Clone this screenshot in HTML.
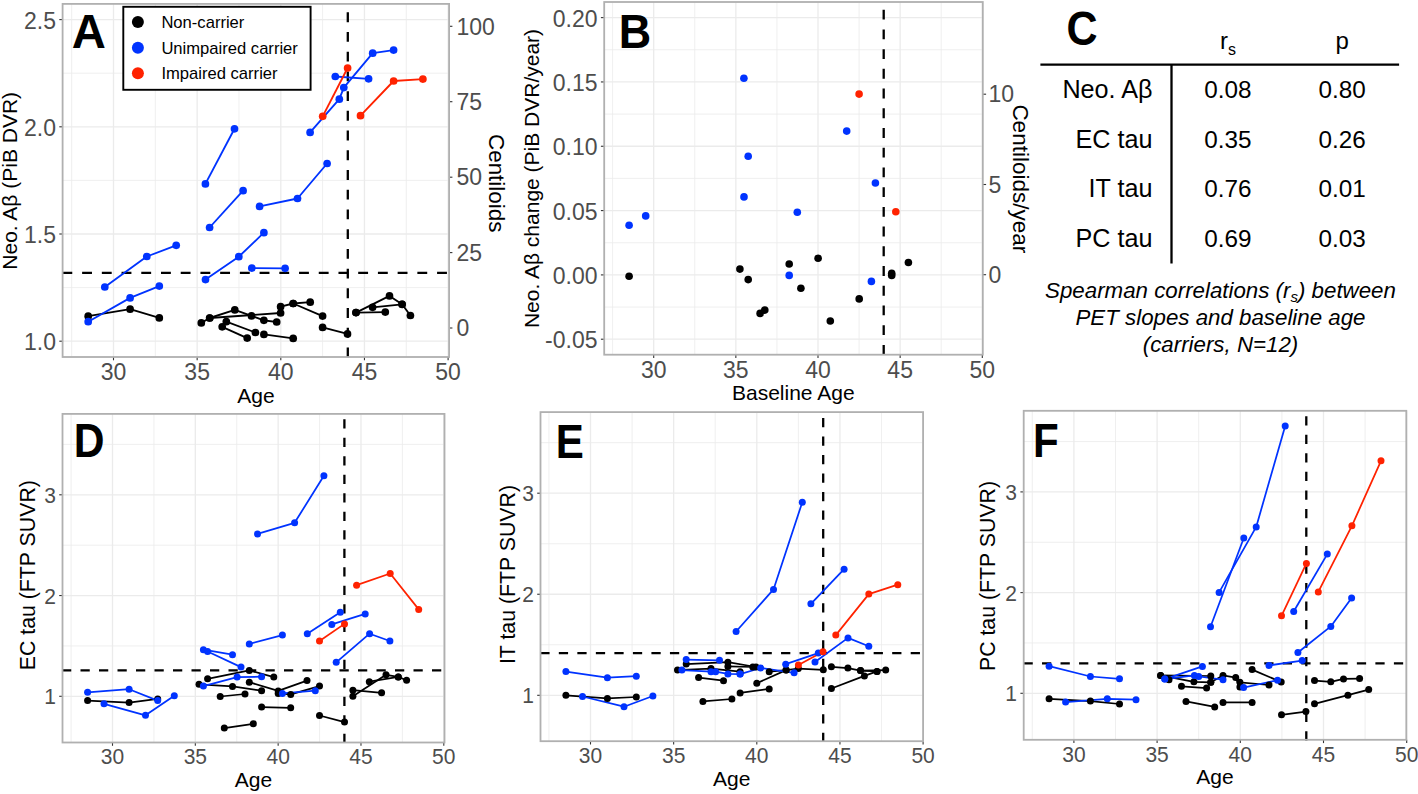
<!DOCTYPE html>
<html><head><meta charset="utf-8"><title>Figure</title>
<style>
html,body{margin:0;padding:0;background:#fff;}
body{width:1418px;height:794px;overflow:hidden;}
svg{display:block;font-family:"Liberation Sans", sans-serif;}
</style></head>
<body>
<svg width="1418" height="794" viewBox="0 0 1418 794">
<rect x="0" y="0" width="1418" height="794" fill="#fff"/>
<line x1="71.67" y1="3.9" x2="71.67" y2="357" stroke="#ebebeb" stroke-width="0.8"/>
<line x1="155.32" y1="3.9" x2="155.32" y2="357" stroke="#ebebeb" stroke-width="0.8"/>
<line x1="238.98" y1="3.9" x2="238.98" y2="357" stroke="#ebebeb" stroke-width="0.8"/>
<line x1="322.62" y1="3.9" x2="322.62" y2="357" stroke="#ebebeb" stroke-width="0.8"/>
<line x1="406.28" y1="3.9" x2="406.28" y2="357" stroke="#ebebeb" stroke-width="0.8"/>
<line x1="62.6" y1="287.6" x2="449.1" y2="287.6" stroke="#ebebeb" stroke-width="0.8"/>
<line x1="62.6" y1="180.4" x2="449.1" y2="180.4" stroke="#ebebeb" stroke-width="0.8"/>
<line x1="62.6" y1="73.2" x2="449.1" y2="73.2" stroke="#ebebeb" stroke-width="0.8"/>
<line x1="113.5" y1="3.9" x2="113.5" y2="357" stroke="#ebebeb" stroke-width="1.3"/>
<line x1="197.15" y1="3.9" x2="197.15" y2="357" stroke="#ebebeb" stroke-width="1.3"/>
<line x1="280.8" y1="3.9" x2="280.8" y2="357" stroke="#ebebeb" stroke-width="1.3"/>
<line x1="364.45" y1="3.9" x2="364.45" y2="357" stroke="#ebebeb" stroke-width="1.3"/>
<line x1="448.1" y1="3.9" x2="448.1" y2="357" stroke="#ebebeb" stroke-width="1.3"/>
<line x1="62.6" y1="341.2" x2="449.1" y2="341.2" stroke="#ebebeb" stroke-width="1.3"/>
<line x1="62.6" y1="234" x2="449.1" y2="234" stroke="#ebebeb" stroke-width="1.3"/>
<line x1="62.6" y1="126.8" x2="449.1" y2="126.8" stroke="#ebebeb" stroke-width="1.3"/>
<line x1="62.6" y1="19.6" x2="449.1" y2="19.6" stroke="#ebebeb" stroke-width="1.3"/>
<line x1="113.5" y1="357" x2="113.5" y2="360.3" stroke="#333333" stroke-width="1.1"/>
<text x="0" y="0" font-size="23" fill="#4d4d4d" text-anchor="middle" font-weight="normal" font-style="normal" transform="translate(113.5 379.6) scale(1 1.04)">30</text>
<line x1="197.15" y1="357" x2="197.15" y2="360.3" stroke="#333333" stroke-width="1.1"/>
<text x="0" y="0" font-size="23" fill="#4d4d4d" text-anchor="middle" font-weight="normal" font-style="normal" transform="translate(197.15 379.6) scale(1 1.04)">35</text>
<line x1="280.8" y1="357" x2="280.8" y2="360.3" stroke="#333333" stroke-width="1.1"/>
<text x="0" y="0" font-size="23" fill="#4d4d4d" text-anchor="middle" font-weight="normal" font-style="normal" transform="translate(280.8 379.6) scale(1 1.04)">40</text>
<line x1="364.45" y1="357" x2="364.45" y2="360.3" stroke="#333333" stroke-width="1.1"/>
<text x="0" y="0" font-size="23" fill="#4d4d4d" text-anchor="middle" font-weight="normal" font-style="normal" transform="translate(364.45 379.6) scale(1 1.04)">45</text>
<line x1="448.1" y1="357" x2="448.1" y2="360.3" stroke="#333333" stroke-width="1.1"/>
<text x="0" y="0" font-size="23" fill="#4d4d4d" text-anchor="middle" font-weight="normal" font-style="normal" transform="translate(448.1 379.6) scale(1 1.04)">50</text>
<line x1="59.3" y1="341.2" x2="62.6" y2="341.2" stroke="#333333" stroke-width="1.1"/>
<text x="0" y="0" font-size="23" fill="#4d4d4d" text-anchor="end" font-weight="normal" font-style="normal" transform="translate(56 350.26) scale(1 1.04)">1.0</text>
<line x1="59.3" y1="234" x2="62.6" y2="234" stroke="#333333" stroke-width="1.1"/>
<text x="0" y="0" font-size="23" fill="#4d4d4d" text-anchor="end" font-weight="normal" font-style="normal" transform="translate(56 243.06) scale(1 1.04)">1.5</text>
<line x1="59.3" y1="126.8" x2="62.6" y2="126.8" stroke="#333333" stroke-width="1.1"/>
<text x="0" y="0" font-size="23" fill="#4d4d4d" text-anchor="end" font-weight="normal" font-style="normal" transform="translate(56 135.86) scale(1 1.04)">2.0</text>
<line x1="59.3" y1="19.6" x2="62.6" y2="19.6" stroke="#333333" stroke-width="1.1"/>
<text x="0" y="0" font-size="23" fill="#4d4d4d" text-anchor="end" font-weight="normal" font-style="normal" transform="translate(56 28.66) scale(1 1.04)">2.5</text>
<line x1="449.1" y1="328" x2="452.4" y2="328" stroke="#333333" stroke-width="1.1"/>
<text x="456.5" y="336.23" font-size="23" fill="#4d4d4d" text-anchor="start" font-weight="normal" font-style="normal">0</text>
<line x1="449.1" y1="252.6" x2="452.4" y2="252.6" stroke="#333333" stroke-width="1.1"/>
<text x="456.5" y="260.83" font-size="23" fill="#4d4d4d" text-anchor="start" font-weight="normal" font-style="normal">25</text>
<line x1="449.1" y1="177.2" x2="452.4" y2="177.2" stroke="#333333" stroke-width="1.1"/>
<text x="456.5" y="185.43" font-size="23" fill="#4d4d4d" text-anchor="start" font-weight="normal" font-style="normal">50</text>
<line x1="449.1" y1="101.7" x2="452.4" y2="101.7" stroke="#333333" stroke-width="1.1"/>
<text x="456.5" y="109.93" font-size="23" fill="#4d4d4d" text-anchor="start" font-weight="normal" font-style="normal">75</text>
<line x1="449.1" y1="26.3" x2="452.4" y2="26.3" stroke="#333333" stroke-width="1.1"/>
<text x="456.5" y="34.53" font-size="23" fill="#4d4d4d" text-anchor="start" font-weight="normal" font-style="normal">100</text>
<line x1="62.4" y1="272.9" x2="449.1" y2="272.9" stroke="#000000" stroke-width="2.3" stroke-dasharray="9.86 9.86"/>
<line x1="347.8" y1="357.37" x2="347.8" y2="3.9" stroke="#000000" stroke-width="2.3" stroke-dasharray="9.86 9.86"/>
<polyline points="88.2,316.2 130.1,309.2 159.3,317.9" fill="none" stroke="#000000" stroke-width="1.85" stroke-linejoin="round"/>
<polyline points="201.3,322.9 209.7,318 234.8,309.9 251.5,315.9 263.9,320.3 276.7,322" fill="none" stroke="#000000" stroke-width="1.85" stroke-linejoin="round"/>
<polyline points="209.7,318 280.6,313 280.6,306.7 293.2,303.5 310.2,302.2" fill="none" stroke="#000000" stroke-width="1.85" stroke-linejoin="round"/>
<polyline points="293.2,303.5 322.6,316.1" fill="none" stroke="#000000" stroke-width="1.85" stroke-linejoin="round"/>
<polyline points="226.3,321.7 255.4,332.5" fill="none" stroke="#000000" stroke-width="1.85" stroke-linejoin="round"/>
<polyline points="222.2,326.8 247.2,338.1" fill="none" stroke="#000000" stroke-width="1.85" stroke-linejoin="round"/>
<polyline points="263.9,334.4 293.2,338.4" fill="none" stroke="#000000" stroke-width="1.85" stroke-linejoin="round"/>
<polyline points="322.6,327.4 347.5,333.9" fill="none" stroke="#000000" stroke-width="1.85" stroke-linejoin="round"/>
<polyline points="356,312.6 389.5,295.9 402.1,304.3 410.4,315.5" fill="none" stroke="#000000" stroke-width="1.85" stroke-linejoin="round"/>
<polyline points="356,312.6 385.3,312.1" fill="none" stroke="#000000" stroke-width="1.85" stroke-linejoin="round"/>
<polyline points="372.6,307.3 402.1,304.3" fill="none" stroke="#000000" stroke-width="1.85" stroke-linejoin="round"/>
<polyline points="88.2,321.7 130.1,297.9 159.3,286.1" fill="none" stroke="#0033ff" stroke-width="1.85" stroke-linejoin="round"/>
<polyline points="104.8,287 146.8,256.5 176.2,245.3" fill="none" stroke="#0033ff" stroke-width="1.85" stroke-linejoin="round"/>
<polyline points="205.5,279.6 238.8,256.7 263.9,232.7" fill="none" stroke="#0033ff" stroke-width="1.85" stroke-linejoin="round"/>
<polyline points="209.6,227.5 243.1,190.7" fill="none" stroke="#0033ff" stroke-width="1.85" stroke-linejoin="round"/>
<polyline points="205.4,183.9 234.5,128.8" fill="none" stroke="#0033ff" stroke-width="1.85" stroke-linejoin="round"/>
<polyline points="259.6,206.4 297.5,198.5 327.1,163.5" fill="none" stroke="#0033ff" stroke-width="1.85" stroke-linejoin="round"/>
<polyline points="251.8,268.1 285.1,268.3" fill="none" stroke="#0033ff" stroke-width="1.85" stroke-linejoin="round"/>
<polyline points="310.1,132.4 339.3,99.2 343.8,87.6 372.7,53.2 393.6,50.1" fill="none" stroke="#0033ff" stroke-width="1.85" stroke-linejoin="round"/>
<polyline points="335.3,76.5 368.6,78.8" fill="none" stroke="#0033ff" stroke-width="1.85" stroke-linejoin="round"/>
<polyline points="322.7,116.3 347.6,68" fill="none" stroke="#ff2200" stroke-width="1.85" stroke-linejoin="round"/>
<polyline points="360.5,115.7 393.6,81 422.9,79.1" fill="none" stroke="#ff2200" stroke-width="1.85" stroke-linejoin="round"/>
<circle cx="88.2" cy="316.2" r="3.85" fill="#000000"/>
<circle cx="130.1" cy="309.2" r="3.85" fill="#000000"/>
<circle cx="159.3" cy="317.9" r="3.85" fill="#000000"/>
<circle cx="201.3" cy="322.9" r="3.85" fill="#000000"/>
<circle cx="209.7" cy="318" r="3.85" fill="#000000"/>
<circle cx="234.8" cy="309.9" r="3.85" fill="#000000"/>
<circle cx="251.5" cy="315.9" r="3.85" fill="#000000"/>
<circle cx="263.9" cy="320.3" r="3.85" fill="#000000"/>
<circle cx="276.7" cy="322" r="3.85" fill="#000000"/>
<circle cx="209.7" cy="318" r="3.85" fill="#000000"/>
<circle cx="280.6" cy="313" r="3.85" fill="#000000"/>
<circle cx="280.6" cy="306.7" r="3.85" fill="#000000"/>
<circle cx="293.2" cy="303.5" r="3.85" fill="#000000"/>
<circle cx="310.2" cy="302.2" r="3.85" fill="#000000"/>
<circle cx="293.2" cy="303.5" r="3.85" fill="#000000"/>
<circle cx="322.6" cy="316.1" r="3.85" fill="#000000"/>
<circle cx="226.3" cy="321.7" r="3.85" fill="#000000"/>
<circle cx="255.4" cy="332.5" r="3.85" fill="#000000"/>
<circle cx="222.2" cy="326.8" r="3.85" fill="#000000"/>
<circle cx="247.2" cy="338.1" r="3.85" fill="#000000"/>
<circle cx="263.9" cy="334.4" r="3.85" fill="#000000"/>
<circle cx="293.2" cy="338.4" r="3.85" fill="#000000"/>
<circle cx="322.6" cy="327.4" r="3.85" fill="#000000"/>
<circle cx="347.5" cy="333.9" r="3.85" fill="#000000"/>
<circle cx="356" cy="312.6" r="3.85" fill="#000000"/>
<circle cx="389.5" cy="295.9" r="3.85" fill="#000000"/>
<circle cx="402.1" cy="304.3" r="3.85" fill="#000000"/>
<circle cx="410.4" cy="315.5" r="3.85" fill="#000000"/>
<circle cx="356" cy="312.6" r="3.85" fill="#000000"/>
<circle cx="385.3" cy="312.1" r="3.85" fill="#000000"/>
<circle cx="372.6" cy="307.3" r="3.85" fill="#000000"/>
<circle cx="402.1" cy="304.3" r="3.85" fill="#000000"/>
<circle cx="88.2" cy="321.7" r="3.85" fill="#0033ff"/>
<circle cx="130.1" cy="297.9" r="3.85" fill="#0033ff"/>
<circle cx="159.3" cy="286.1" r="3.85" fill="#0033ff"/>
<circle cx="104.8" cy="287" r="3.85" fill="#0033ff"/>
<circle cx="146.8" cy="256.5" r="3.85" fill="#0033ff"/>
<circle cx="176.2" cy="245.3" r="3.85" fill="#0033ff"/>
<circle cx="205.5" cy="279.6" r="3.85" fill="#0033ff"/>
<circle cx="238.8" cy="256.7" r="3.85" fill="#0033ff"/>
<circle cx="263.9" cy="232.7" r="3.85" fill="#0033ff"/>
<circle cx="209.6" cy="227.5" r="3.85" fill="#0033ff"/>
<circle cx="243.1" cy="190.7" r="3.85" fill="#0033ff"/>
<circle cx="205.4" cy="183.9" r="3.85" fill="#0033ff"/>
<circle cx="234.5" cy="128.8" r="3.85" fill="#0033ff"/>
<circle cx="259.6" cy="206.4" r="3.85" fill="#0033ff"/>
<circle cx="297.5" cy="198.5" r="3.85" fill="#0033ff"/>
<circle cx="327.1" cy="163.5" r="3.85" fill="#0033ff"/>
<circle cx="251.8" cy="268.1" r="3.85" fill="#0033ff"/>
<circle cx="285.1" cy="268.3" r="3.85" fill="#0033ff"/>
<circle cx="310.1" cy="132.4" r="3.85" fill="#0033ff"/>
<circle cx="339.3" cy="99.2" r="3.85" fill="#0033ff"/>
<circle cx="343.8" cy="87.6" r="3.85" fill="#0033ff"/>
<circle cx="372.7" cy="53.2" r="3.85" fill="#0033ff"/>
<circle cx="393.6" cy="50.1" r="3.85" fill="#0033ff"/>
<circle cx="335.3" cy="76.5" r="3.85" fill="#0033ff"/>
<circle cx="368.6" cy="78.8" r="3.85" fill="#0033ff"/>
<circle cx="322.7" cy="116.3" r="3.85" fill="#ff2200"/>
<circle cx="347.6" cy="68" r="3.85" fill="#ff2200"/>
<circle cx="360.5" cy="115.7" r="3.85" fill="#ff2200"/>
<circle cx="393.6" cy="81" r="3.85" fill="#ff2200"/>
<circle cx="422.9" cy="79.1" r="3.85" fill="#ff2200"/>
<rect x="62.6" y="3.9" width="386.5" height="353.1" fill="none" stroke="#b0b0b0" stroke-width="1.8"/>
<rect x="123.3" y="6.8" width="187.3" height="83" fill="#fff" stroke="#000" stroke-width="1.9"/>
<circle cx="137.9" cy="22" r="6" fill="#000000"/>
<text x="161.4" y="27.9" font-size="16.6" fill="#000" text-anchor="start" font-weight="normal" font-style="normal">Non-carrier</text>
<circle cx="137.9" cy="47.65" r="6" fill="#0033ff"/>
<text x="161.4" y="53.55" font-size="16.6" fill="#000" text-anchor="start" font-weight="normal" font-style="normal">Unimpaired carrier</text>
<circle cx="137.9" cy="73.3" r="6" fill="#ff2200"/>
<text x="161.4" y="79.2" font-size="16.6" fill="#000" text-anchor="start" font-weight="normal" font-style="normal">Impaired carrier</text>
<text transform="translate(71.8 48) scale(1 1)" x="0" y="0" font-size="47.3" fill="#000" font-weight="bold">A</text>
<text x="255.9" y="402.5" font-size="21" fill="#000" text-anchor="middle" font-weight="normal" font-style="normal">Age</text>
<text x="16.8" y="180.8" font-size="21" fill="#000" text-anchor="middle" font-weight="normal" font-style="normal" transform="rotate(-90 16.8 180.8)">Neo. A&#946; (PiB DVR)</text>
<text x="489" y="183.2" font-size="22.4" fill="#000" text-anchor="middle" font-weight="normal" font-style="normal" transform="rotate(90 489 183.2)">Centiloids</text>
<line x1="612.62" y1="2" x2="612.62" y2="354.7" stroke="#ebebeb" stroke-width="0.8"/>
<line x1="694.78" y1="2" x2="694.78" y2="354.7" stroke="#ebebeb" stroke-width="0.8"/>
<line x1="776.93" y1="2" x2="776.93" y2="354.7" stroke="#ebebeb" stroke-width="0.8"/>
<line x1="859.08" y1="2" x2="859.08" y2="354.7" stroke="#ebebeb" stroke-width="0.8"/>
<line x1="941.23" y1="2" x2="941.23" y2="354.7" stroke="#ebebeb" stroke-width="0.8"/>
<line x1="604.2" y1="307.06" x2="982.8" y2="307.06" stroke="#ebebeb" stroke-width="0.8"/>
<line x1="604.2" y1="242.74" x2="982.8" y2="242.74" stroke="#ebebeb" stroke-width="0.8"/>
<line x1="604.2" y1="178.42" x2="982.8" y2="178.42" stroke="#ebebeb" stroke-width="0.8"/>
<line x1="604.2" y1="114.1" x2="982.8" y2="114.1" stroke="#ebebeb" stroke-width="0.8"/>
<line x1="604.2" y1="49.78" x2="982.8" y2="49.78" stroke="#ebebeb" stroke-width="0.8"/>
<line x1="653.7" y1="2" x2="653.7" y2="354.7" stroke="#ebebeb" stroke-width="1.3"/>
<line x1="735.85" y1="2" x2="735.85" y2="354.7" stroke="#ebebeb" stroke-width="1.3"/>
<line x1="818" y1="2" x2="818" y2="354.7" stroke="#ebebeb" stroke-width="1.3"/>
<line x1="900.15" y1="2" x2="900.15" y2="354.7" stroke="#ebebeb" stroke-width="1.3"/>
<line x1="982.3" y1="2" x2="982.3" y2="354.7" stroke="#ebebeb" stroke-width="1.3"/>
<line x1="604.2" y1="339.22" x2="982.8" y2="339.22" stroke="#ebebeb" stroke-width="1.3"/>
<line x1="604.2" y1="274.9" x2="982.8" y2="274.9" stroke="#ebebeb" stroke-width="1.3"/>
<line x1="604.2" y1="210.58" x2="982.8" y2="210.58" stroke="#ebebeb" stroke-width="1.3"/>
<line x1="604.2" y1="146.26" x2="982.8" y2="146.26" stroke="#ebebeb" stroke-width="1.3"/>
<line x1="604.2" y1="81.94" x2="982.8" y2="81.94" stroke="#ebebeb" stroke-width="1.3"/>
<line x1="604.2" y1="17.62" x2="982.8" y2="17.62" stroke="#ebebeb" stroke-width="1.3"/>
<line x1="653.7" y1="354.7" x2="653.7" y2="358" stroke="#333333" stroke-width="1.1"/>
<text x="0" y="0" font-size="23" fill="#4d4d4d" text-anchor="middle" font-weight="normal" font-style="normal" transform="translate(653.7 377.9) scale(1 1.04)">30</text>
<line x1="735.85" y1="354.7" x2="735.85" y2="358" stroke="#333333" stroke-width="1.1"/>
<text x="0" y="0" font-size="23" fill="#4d4d4d" text-anchor="middle" font-weight="normal" font-style="normal" transform="translate(735.85 377.9) scale(1 1.04)">35</text>
<line x1="818" y1="354.7" x2="818" y2="358" stroke="#333333" stroke-width="1.1"/>
<text x="0" y="0" font-size="23" fill="#4d4d4d" text-anchor="middle" font-weight="normal" font-style="normal" transform="translate(818 377.9) scale(1 1.04)">40</text>
<line x1="900.15" y1="354.7" x2="900.15" y2="358" stroke="#333333" stroke-width="1.1"/>
<text x="0" y="0" font-size="23" fill="#4d4d4d" text-anchor="middle" font-weight="normal" font-style="normal" transform="translate(900.15 377.9) scale(1 1.04)">45</text>
<line x1="982.3" y1="354.7" x2="982.3" y2="358" stroke="#333333" stroke-width="1.1"/>
<text x="0" y="0" font-size="23" fill="#4d4d4d" text-anchor="middle" font-weight="normal" font-style="normal" transform="translate(982.3 377.9) scale(1 1.04)">50</text>
<line x1="600.9" y1="339.22" x2="604.2" y2="339.22" stroke="#333333" stroke-width="1.1"/>
<text x="0" y="0" font-size="23" fill="#4d4d4d" text-anchor="end" font-weight="normal" font-style="normal" transform="translate(597.5 348.28) scale(1 1.04)">-0.05</text>
<line x1="600.9" y1="274.9" x2="604.2" y2="274.9" stroke="#333333" stroke-width="1.1"/>
<text x="0" y="0" font-size="23" fill="#4d4d4d" text-anchor="end" font-weight="normal" font-style="normal" transform="translate(597.5 283.96) scale(1 1.04)">0.00</text>
<line x1="600.9" y1="210.58" x2="604.2" y2="210.58" stroke="#333333" stroke-width="1.1"/>
<text x="0" y="0" font-size="23" fill="#4d4d4d" text-anchor="end" font-weight="normal" font-style="normal" transform="translate(597.5 219.64) scale(1 1.04)">0.05</text>
<line x1="600.9" y1="146.26" x2="604.2" y2="146.26" stroke="#333333" stroke-width="1.1"/>
<text x="0" y="0" font-size="23" fill="#4d4d4d" text-anchor="end" font-weight="normal" font-style="normal" transform="translate(597.5 155.32) scale(1 1.04)">0.10</text>
<line x1="600.9" y1="81.94" x2="604.2" y2="81.94" stroke="#333333" stroke-width="1.1"/>
<text x="0" y="0" font-size="23" fill="#4d4d4d" text-anchor="end" font-weight="normal" font-style="normal" transform="translate(597.5 91) scale(1 1.04)">0.15</text>
<line x1="600.9" y1="17.62" x2="604.2" y2="17.62" stroke="#333333" stroke-width="1.1"/>
<text x="0" y="0" font-size="23" fill="#4d4d4d" text-anchor="end" font-weight="normal" font-style="normal" transform="translate(597.5 26.68) scale(1 1.04)">0.20</text>
<line x1="982.8" y1="274.7" x2="986.1" y2="274.7" stroke="#333333" stroke-width="1.1"/>
<text x="988.5" y="282.93" font-size="23" fill="#4d4d4d" text-anchor="start" font-weight="normal" font-style="normal">0</text>
<line x1="982.8" y1="184.5" x2="986.1" y2="184.5" stroke="#333333" stroke-width="1.1"/>
<text x="988.5" y="192.73" font-size="23" fill="#4d4d4d" text-anchor="start" font-weight="normal" font-style="normal">5</text>
<line x1="982.8" y1="94.2" x2="986.1" y2="94.2" stroke="#333333" stroke-width="1.1"/>
<text x="988.5" y="102.43" font-size="23" fill="#4d4d4d" text-anchor="start" font-weight="normal" font-style="normal">10</text>
<line x1="883.7" y1="354.8" x2="883.7" y2="2" stroke="#000000" stroke-width="2.3" stroke-dasharray="9.86 9.86"/>
<circle cx="629.1" cy="225.3" r="3.8" fill="#0033ff"/>
<circle cx="645.7" cy="215.9" r="3.8" fill="#0033ff"/>
<circle cx="743.9" cy="78.2" r="3.8" fill="#0033ff"/>
<circle cx="748.2" cy="156.2" r="3.8" fill="#0033ff"/>
<circle cx="744" cy="196.9" r="3.8" fill="#0033ff"/>
<circle cx="797.3" cy="212.2" r="3.8" fill="#0033ff"/>
<circle cx="789.2" cy="275.4" r="3.8" fill="#0033ff"/>
<circle cx="846.7" cy="131.1" r="3.8" fill="#0033ff"/>
<circle cx="875.4" cy="183" r="3.8" fill="#0033ff"/>
<circle cx="871.4" cy="281.4" r="3.8" fill="#0033ff"/>
<circle cx="859.1" cy="94.1" r="3.8" fill="#ff2200"/>
<circle cx="895.8" cy="211.7" r="3.8" fill="#ff2200"/>
<circle cx="629.1" cy="276.3" r="3.8" fill="#000000"/>
<circle cx="739.9" cy="269.1" r="3.8" fill="#000000"/>
<circle cx="748.2" cy="279.6" r="3.8" fill="#000000"/>
<circle cx="760.1" cy="313.4" r="3.8" fill="#000000"/>
<circle cx="764.8" cy="310.1" r="3.8" fill="#000000"/>
<circle cx="789.2" cy="264" r="3.8" fill="#000000"/>
<circle cx="800.9" cy="288.3" r="3.8" fill="#000000"/>
<circle cx="818.1" cy="258.3" r="3.8" fill="#000000"/>
<circle cx="830.3" cy="321" r="3.8" fill="#000000"/>
<circle cx="859.2" cy="298.9" r="3.8" fill="#000000"/>
<circle cx="891.7" cy="273.2" r="3.8" fill="#000000"/>
<circle cx="891.7" cy="275.4" r="3.8" fill="#000000"/>
<circle cx="908.4" cy="262.5" r="3.8" fill="#000000"/>
<rect x="604.2" y="2" width="378.6" height="352.7" fill="none" stroke="#b0b0b0" stroke-width="1.8"/>
<text transform="translate(618.75 47.7) scale(0.95 1)" x="0" y="0" font-size="47.3" fill="#000" font-weight="bold">B</text>
<text x="793.3" y="400.3" font-size="21" fill="#000" text-anchor="middle" font-weight="normal" font-style="normal">Baseline Age</text>
<text x="538.5" y="178.5" font-size="21" fill="#000" text-anchor="middle" font-weight="normal" font-style="normal" transform="rotate(-90 538.5 178.5)">Neo. A&#946; change (PiB DVR/year)</text>
<text x="1012.8" y="178.8" font-size="22.5" fill="#000" text-anchor="middle" font-weight="normal" font-style="normal" transform="rotate(90 1012.8 178.8)">Centiloids/year</text>
<text transform="translate(1066.5 45) scale(0.91 1)" x="0" y="0" font-size="47.3" fill="#000" font-weight="bold">C</text>
<line x1="1040.4" y1="64.6" x2="1399.1" y2="64.6" stroke="#000" stroke-width="2.3"/>
<line x1="1171.5" y1="64.6" x2="1171.5" y2="263.5" stroke="#000" stroke-width="2.3"/>
<text x="1220.0" y="49.1" font-size="24" fill="#000">r<tspan font-size="16" dy="6">s</tspan></text>
<text x="1342.2" y="49.1" font-size="24" fill="#000" text-anchor="middle" font-weight="normal" font-style="normal">p</text>
<text x="1152.5" y="97.8" font-size="25.2" fill="#000" text-anchor="end" font-weight="normal" font-style="normal">Neo. A&#946;</text>
<text x="1228" y="97.8" font-size="24.3" fill="#000" text-anchor="middle" font-weight="normal" font-style="normal">0.08</text>
<text x="1342.2" y="97.8" font-size="24.3" fill="#000" text-anchor="middle" font-weight="normal" font-style="normal">0.80</text>
<text x="1152.5" y="147.55" font-size="25.2" fill="#000" text-anchor="end" font-weight="normal" font-style="normal">EC tau</text>
<text x="1228" y="147.55" font-size="24.3" fill="#000" text-anchor="middle" font-weight="normal" font-style="normal">0.35</text>
<text x="1342.2" y="147.55" font-size="24.3" fill="#000" text-anchor="middle" font-weight="normal" font-style="normal">0.26</text>
<text x="1152.5" y="197.3" font-size="25.2" fill="#000" text-anchor="end" font-weight="normal" font-style="normal">IT tau</text>
<text x="1228" y="197.3" font-size="24.3" fill="#000" text-anchor="middle" font-weight="normal" font-style="normal">0.76</text>
<text x="1342.2" y="197.3" font-size="24.3" fill="#000" text-anchor="middle" font-weight="normal" font-style="normal">0.01</text>
<text x="1152.5" y="247.05" font-size="25.2" fill="#000" text-anchor="end" font-weight="normal" font-style="normal">PC tau</text>
<text x="1228" y="247.05" font-size="24.3" fill="#000" text-anchor="middle" font-weight="normal" font-style="normal">0.69</text>
<text x="1342.2" y="247.05" font-size="24.3" fill="#000" text-anchor="middle" font-weight="normal" font-style="normal">0.03</text>
<text x="1220.5" y="298.3" font-size="22.3" fill="#000" text-anchor="middle" font-style="italic">Spearman correlations (r<tspan font-size="15" dy="4">s</tspan><tspan dy="-4">) between</tspan></text>
<text x="1220.5" y="325.1" font-size="22.3" fill="#000" text-anchor="middle" font-weight="normal" font-style="italic">PET slopes and baseline age</text>
<text x="1220.5" y="351.9" font-size="22.3" fill="#000" text-anchor="middle" font-weight="normal" font-style="italic">(carriers, N=12)</text>
<line x1="71.09" y1="413.9" x2="71.09" y2="742.5" stroke="#ebebeb" stroke-width="0.8"/>
<line x1="153.91" y1="413.9" x2="153.91" y2="742.5" stroke="#ebebeb" stroke-width="0.8"/>
<line x1="236.74" y1="413.9" x2="236.74" y2="742.5" stroke="#ebebeb" stroke-width="0.8"/>
<line x1="319.56" y1="413.9" x2="319.56" y2="742.5" stroke="#ebebeb" stroke-width="0.8"/>
<line x1="402.39" y1="413.9" x2="402.39" y2="742.5" stroke="#ebebeb" stroke-width="0.8"/>
<line x1="62.5" y1="645.92" x2="444.5" y2="645.92" stroke="#ebebeb" stroke-width="0.8"/>
<line x1="62.5" y1="545.17" x2="444.5" y2="545.17" stroke="#ebebeb" stroke-width="0.8"/>
<line x1="62.5" y1="444.42" x2="444.5" y2="444.42" stroke="#ebebeb" stroke-width="0.8"/>
<line x1="112.5" y1="413.9" x2="112.5" y2="742.5" stroke="#ebebeb" stroke-width="1.3"/>
<line x1="195.32" y1="413.9" x2="195.32" y2="742.5" stroke="#ebebeb" stroke-width="1.3"/>
<line x1="278.15" y1="413.9" x2="278.15" y2="742.5" stroke="#ebebeb" stroke-width="1.3"/>
<line x1="360.98" y1="413.9" x2="360.98" y2="742.5" stroke="#ebebeb" stroke-width="1.3"/>
<line x1="443.8" y1="413.9" x2="443.8" y2="742.5" stroke="#ebebeb" stroke-width="1.3"/>
<line x1="62.5" y1="696.3" x2="444.5" y2="696.3" stroke="#ebebeb" stroke-width="1.3"/>
<line x1="62.5" y1="595.55" x2="444.5" y2="595.55" stroke="#ebebeb" stroke-width="1.3"/>
<line x1="62.5" y1="494.8" x2="444.5" y2="494.8" stroke="#ebebeb" stroke-width="1.3"/>
<line x1="112.5" y1="742.5" x2="112.5" y2="745.8" stroke="#333333" stroke-width="1.1"/>
<text x="0" y="0" font-size="21" fill="#4d4d4d" text-anchor="middle" font-weight="normal" font-style="normal" transform="translate(112.5 764.4) scale(1 1.07)">30</text>
<line x1="195.32" y1="742.5" x2="195.32" y2="745.8" stroke="#333333" stroke-width="1.1"/>
<text x="0" y="0" font-size="21" fill="#4d4d4d" text-anchor="middle" font-weight="normal" font-style="normal" transform="translate(195.32 764.4) scale(1 1.07)">35</text>
<line x1="278.15" y1="742.5" x2="278.15" y2="745.8" stroke="#333333" stroke-width="1.1"/>
<text x="0" y="0" font-size="21" fill="#4d4d4d" text-anchor="middle" font-weight="normal" font-style="normal" transform="translate(278.15 764.4) scale(1 1.07)">40</text>
<line x1="360.98" y1="742.5" x2="360.98" y2="745.8" stroke="#333333" stroke-width="1.1"/>
<text x="0" y="0" font-size="21" fill="#4d4d4d" text-anchor="middle" font-weight="normal" font-style="normal" transform="translate(360.98 764.4) scale(1 1.07)">45</text>
<line x1="443.8" y1="742.5" x2="443.8" y2="745.8" stroke="#333333" stroke-width="1.1"/>
<text x="0" y="0" font-size="21" fill="#4d4d4d" text-anchor="middle" font-weight="normal" font-style="normal" transform="translate(443.8 764.4) scale(1 1.07)">50</text>
<line x1="59.2" y1="696.3" x2="62.5" y2="696.3" stroke="#333333" stroke-width="1.1"/>
<text x="0" y="0" font-size="21" fill="#4d4d4d" text-anchor="end" font-weight="normal" font-style="normal" transform="translate(56 704.34) scale(1 1.07)">1</text>
<line x1="59.2" y1="595.55" x2="62.5" y2="595.55" stroke="#333333" stroke-width="1.1"/>
<text x="0" y="0" font-size="21" fill="#4d4d4d" text-anchor="end" font-weight="normal" font-style="normal" transform="translate(56 603.59) scale(1 1.07)">2</text>
<line x1="59.2" y1="494.8" x2="62.5" y2="494.8" stroke="#333333" stroke-width="1.1"/>
<text x="0" y="0" font-size="21" fill="#4d4d4d" text-anchor="end" font-weight="normal" font-style="normal" transform="translate(56 502.84) scale(1 1.07)">3</text>
<line x1="62" y1="670.4" x2="444.5" y2="670.4" stroke="#000000" stroke-width="2.3" stroke-dasharray="9.25 9.25"/>
<line x1="344.4" y1="743" x2="344.4" y2="413.9" stroke="#000000" stroke-width="2.3" stroke-dasharray="9.25 9.25"/>
<polyline points="87.6,700.6 129.1,702.6 157.7,698.9" fill="none" stroke="#000000" stroke-width="1.75" stroke-linejoin="round"/>
<polyline points="199,684.3 232.5,686.4 261.6,690.7" fill="none" stroke="#000000" stroke-width="1.75" stroke-linejoin="round"/>
<polyline points="207.6,678.8 249.3,670.4 273.8,677.1" fill="none" stroke="#000000" stroke-width="1.75" stroke-linejoin="round"/>
<polyline points="249.3,682.2 278.2,690.9 307,680.6" fill="none" stroke="#000000" stroke-width="1.75" stroke-linejoin="round"/>
<polyline points="278.2,693.4 290.7,694.4 319.5,686.1" fill="none" stroke="#000000" stroke-width="1.75" stroke-linejoin="round"/>
<polyline points="220.2,696.5 245,694" fill="none" stroke="#000000" stroke-width="1.75" stroke-linejoin="round"/>
<polyline points="261.6,707.1 290.7,707.8" fill="none" stroke="#000000" stroke-width="1.75" stroke-linejoin="round"/>
<polyline points="224.3,728.1 253.3,723.8" fill="none" stroke="#000000" stroke-width="1.75" stroke-linejoin="round"/>
<polyline points="319.5,715.5 344.5,722.1" fill="none" stroke="#000000" stroke-width="1.75" stroke-linejoin="round"/>
<polyline points="352.9,690.2 381.6,692.8" fill="none" stroke="#000000" stroke-width="1.75" stroke-linejoin="round"/>
<polyline points="352.9,696.2 386,674.8 398.3,676.9 406.6,680.3" fill="none" stroke="#000000" stroke-width="1.75" stroke-linejoin="round"/>
<polyline points="369.3,681.7 398.3,676.9" fill="none" stroke="#000000" stroke-width="1.75" stroke-linejoin="round"/>
<polyline points="87.6,692.3 129.1,689.2 157.7,700.6" fill="none" stroke="#0033ff" stroke-width="1.75" stroke-linejoin="round"/>
<polyline points="104,703.8 145.5,715.3 174.3,695.7" fill="none" stroke="#0033ff" stroke-width="1.75" stroke-linejoin="round"/>
<polyline points="203.4,649.7 232.5,654.7" fill="none" stroke="#0033ff" stroke-width="1.75" stroke-linejoin="round"/>
<polyline points="207.6,651.5 241,667.1" fill="none" stroke="#0033ff" stroke-width="1.75" stroke-linejoin="round"/>
<polyline points="249.3,643.9 282.4,635.1" fill="none" stroke="#0033ff" stroke-width="1.75" stroke-linejoin="round"/>
<polyline points="203.4,686.1 237.1,677.1 261.6,676.7" fill="none" stroke="#0033ff" stroke-width="1.75" stroke-linejoin="round"/>
<polyline points="282.4,693.4 315.3,690.7" fill="none" stroke="#0033ff" stroke-width="1.75" stroke-linejoin="round"/>
<polyline points="257.5,533.9 294.6,522.8 323.9,475.7" fill="none" stroke="#0033ff" stroke-width="1.75" stroke-linejoin="round"/>
<polyline points="307.3,633.7 340.3,612.2" fill="none" stroke="#0033ff" stroke-width="1.75" stroke-linejoin="round"/>
<polyline points="331.8,624.4 365.2,613.9" fill="none" stroke="#0033ff" stroke-width="1.75" stroke-linejoin="round"/>
<polyline points="336.2,662.3 369.6,633.7 389.9,641" fill="none" stroke="#0033ff" stroke-width="1.75" stroke-linejoin="round"/>
<polyline points="319.5,641 344.5,623.9" fill="none" stroke="#ff2200" stroke-width="1.75" stroke-linejoin="round"/>
<polyline points="356.6,585.2 390.2,573.5 418.7,609.4" fill="none" stroke="#ff2200" stroke-width="1.75" stroke-linejoin="round"/>
<circle cx="87.6" cy="700.6" r="3.5" fill="#000000"/>
<circle cx="129.1" cy="702.6" r="3.5" fill="#000000"/>
<circle cx="157.7" cy="698.9" r="3.5" fill="#000000"/>
<circle cx="199" cy="684.3" r="3.5" fill="#000000"/>
<circle cx="232.5" cy="686.4" r="3.5" fill="#000000"/>
<circle cx="261.6" cy="690.7" r="3.5" fill="#000000"/>
<circle cx="207.6" cy="678.8" r="3.5" fill="#000000"/>
<circle cx="249.3" cy="670.4" r="3.5" fill="#000000"/>
<circle cx="273.8" cy="677.1" r="3.5" fill="#000000"/>
<circle cx="249.3" cy="682.2" r="3.5" fill="#000000"/>
<circle cx="278.2" cy="690.9" r="3.5" fill="#000000"/>
<circle cx="307" cy="680.6" r="3.5" fill="#000000"/>
<circle cx="278.2" cy="693.4" r="3.5" fill="#000000"/>
<circle cx="290.7" cy="694.4" r="3.5" fill="#000000"/>
<circle cx="319.5" cy="686.1" r="3.5" fill="#000000"/>
<circle cx="220.2" cy="696.5" r="3.5" fill="#000000"/>
<circle cx="245" cy="694" r="3.5" fill="#000000"/>
<circle cx="261.6" cy="707.1" r="3.5" fill="#000000"/>
<circle cx="290.7" cy="707.8" r="3.5" fill="#000000"/>
<circle cx="224.3" cy="728.1" r="3.5" fill="#000000"/>
<circle cx="253.3" cy="723.8" r="3.5" fill="#000000"/>
<circle cx="319.5" cy="715.5" r="3.5" fill="#000000"/>
<circle cx="344.5" cy="722.1" r="3.5" fill="#000000"/>
<circle cx="352.9" cy="690.2" r="3.5" fill="#000000"/>
<circle cx="381.6" cy="692.8" r="3.5" fill="#000000"/>
<circle cx="352.9" cy="696.2" r="3.5" fill="#000000"/>
<circle cx="386" cy="674.8" r="3.5" fill="#000000"/>
<circle cx="398.3" cy="676.9" r="3.5" fill="#000000"/>
<circle cx="406.6" cy="680.3" r="3.5" fill="#000000"/>
<circle cx="369.3" cy="681.7" r="3.5" fill="#000000"/>
<circle cx="398.3" cy="676.9" r="3.5" fill="#000000"/>
<circle cx="87.6" cy="692.3" r="3.5" fill="#0033ff"/>
<circle cx="129.1" cy="689.2" r="3.5" fill="#0033ff"/>
<circle cx="157.7" cy="700.6" r="3.5" fill="#0033ff"/>
<circle cx="104" cy="703.8" r="3.5" fill="#0033ff"/>
<circle cx="145.5" cy="715.3" r="3.5" fill="#0033ff"/>
<circle cx="174.3" cy="695.7" r="3.5" fill="#0033ff"/>
<circle cx="203.4" cy="649.7" r="3.5" fill="#0033ff"/>
<circle cx="232.5" cy="654.7" r="3.5" fill="#0033ff"/>
<circle cx="207.6" cy="651.5" r="3.5" fill="#0033ff"/>
<circle cx="241" cy="667.1" r="3.5" fill="#0033ff"/>
<circle cx="249.3" cy="643.9" r="3.5" fill="#0033ff"/>
<circle cx="282.4" cy="635.1" r="3.5" fill="#0033ff"/>
<circle cx="203.4" cy="686.1" r="3.5" fill="#0033ff"/>
<circle cx="237.1" cy="677.1" r="3.5" fill="#0033ff"/>
<circle cx="261.6" cy="676.7" r="3.5" fill="#0033ff"/>
<circle cx="282.4" cy="693.4" r="3.5" fill="#0033ff"/>
<circle cx="315.3" cy="690.7" r="3.5" fill="#0033ff"/>
<circle cx="257.5" cy="533.9" r="3.5" fill="#0033ff"/>
<circle cx="294.6" cy="522.8" r="3.5" fill="#0033ff"/>
<circle cx="323.9" cy="475.7" r="3.5" fill="#0033ff"/>
<circle cx="307.3" cy="633.7" r="3.5" fill="#0033ff"/>
<circle cx="340.3" cy="612.2" r="3.5" fill="#0033ff"/>
<circle cx="331.8" cy="624.4" r="3.5" fill="#0033ff"/>
<circle cx="365.2" cy="613.9" r="3.5" fill="#0033ff"/>
<circle cx="336.2" cy="662.3" r="3.5" fill="#0033ff"/>
<circle cx="369.6" cy="633.7" r="3.5" fill="#0033ff"/>
<circle cx="389.9" cy="641" r="3.5" fill="#0033ff"/>
<circle cx="319.5" cy="641" r="3.5" fill="#ff2200"/>
<circle cx="344.5" cy="623.9" r="3.5" fill="#ff2200"/>
<circle cx="356.6" cy="585.2" r="3.5" fill="#ff2200"/>
<circle cx="390.2" cy="573.5" r="3.5" fill="#ff2200"/>
<circle cx="418.7" cy="609.4" r="3.5" fill="#ff2200"/>
<rect x="62.5" y="413.9" width="382" height="328.6" fill="none" stroke="#b0b0b0" stroke-width="1.8"/>
<text transform="translate(73.75 456.5) scale(0.9 1)" x="0" y="0" font-size="47.3" fill="#000" font-weight="bold">D</text>
<text x="253.5" y="786.5" font-size="21" fill="#000" text-anchor="middle" font-weight="normal" font-style="normal">Age</text>
<text x="35.3" y="575.2" font-size="21.3" fill="#000" text-anchor="middle" font-weight="normal" font-style="normal" transform="rotate(-90 35.3 575.2)">EC tau (FTP SUVR)</text>
<line x1="548.92" y1="412.1" x2="548.92" y2="741.2" stroke="#ebebeb" stroke-width="0.8"/>
<line x1="632.08" y1="412.1" x2="632.08" y2="741.2" stroke="#ebebeb" stroke-width="0.8"/>
<line x1="715.23" y1="412.1" x2="715.23" y2="741.2" stroke="#ebebeb" stroke-width="0.8"/>
<line x1="798.38" y1="412.1" x2="798.38" y2="741.2" stroke="#ebebeb" stroke-width="0.8"/>
<line x1="881.52" y1="412.1" x2="881.52" y2="741.2" stroke="#ebebeb" stroke-width="0.8"/>
<line x1="540.5" y1="644.77" x2="923.1" y2="644.77" stroke="#ebebeb" stroke-width="0.8"/>
<line x1="540.5" y1="543.72" x2="923.1" y2="543.72" stroke="#ebebeb" stroke-width="0.8"/>
<line x1="540.5" y1="442.67" x2="923.1" y2="442.67" stroke="#ebebeb" stroke-width="0.8"/>
<line x1="590.5" y1="412.1" x2="590.5" y2="741.2" stroke="#ebebeb" stroke-width="1.3"/>
<line x1="673.65" y1="412.1" x2="673.65" y2="741.2" stroke="#ebebeb" stroke-width="1.3"/>
<line x1="756.8" y1="412.1" x2="756.8" y2="741.2" stroke="#ebebeb" stroke-width="1.3"/>
<line x1="839.95" y1="412.1" x2="839.95" y2="741.2" stroke="#ebebeb" stroke-width="1.3"/>
<line x1="923.1" y1="412.1" x2="923.1" y2="741.2" stroke="#ebebeb" stroke-width="1.3"/>
<line x1="540.5" y1="695.3" x2="923.1" y2="695.3" stroke="#ebebeb" stroke-width="1.3"/>
<line x1="540.5" y1="594.25" x2="923.1" y2="594.25" stroke="#ebebeb" stroke-width="1.3"/>
<line x1="540.5" y1="493.2" x2="923.1" y2="493.2" stroke="#ebebeb" stroke-width="1.3"/>
<line x1="590.5" y1="741.2" x2="590.5" y2="744.5" stroke="#333333" stroke-width="1.1"/>
<text x="0" y="0" font-size="21" fill="#4d4d4d" text-anchor="middle" font-weight="normal" font-style="normal" transform="translate(590.5 763.1) scale(1 1.07)">30</text>
<line x1="673.65" y1="741.2" x2="673.65" y2="744.5" stroke="#333333" stroke-width="1.1"/>
<text x="0" y="0" font-size="21" fill="#4d4d4d" text-anchor="middle" font-weight="normal" font-style="normal" transform="translate(673.65 763.1) scale(1 1.07)">35</text>
<line x1="756.8" y1="741.2" x2="756.8" y2="744.5" stroke="#333333" stroke-width="1.1"/>
<text x="0" y="0" font-size="21" fill="#4d4d4d" text-anchor="middle" font-weight="normal" font-style="normal" transform="translate(756.8 763.1) scale(1 1.07)">40</text>
<line x1="839.95" y1="741.2" x2="839.95" y2="744.5" stroke="#333333" stroke-width="1.1"/>
<text x="0" y="0" font-size="21" fill="#4d4d4d" text-anchor="middle" font-weight="normal" font-style="normal" transform="translate(839.95 763.1) scale(1 1.07)">45</text>
<line x1="923.1" y1="741.2" x2="923.1" y2="744.5" stroke="#333333" stroke-width="1.1"/>
<text x="0" y="0" font-size="21" fill="#4d4d4d" text-anchor="middle" font-weight="normal" font-style="normal" transform="translate(923.1 763.1) scale(1 1.07)">50</text>
<line x1="537.2" y1="695.3" x2="540.5" y2="695.3" stroke="#333333" stroke-width="1.1"/>
<text x="0" y="0" font-size="21" fill="#4d4d4d" text-anchor="end" font-weight="normal" font-style="normal" transform="translate(534 703.34) scale(1 1.07)">1</text>
<line x1="537.2" y1="594.25" x2="540.5" y2="594.25" stroke="#333333" stroke-width="1.1"/>
<text x="0" y="0" font-size="21" fill="#4d4d4d" text-anchor="end" font-weight="normal" font-style="normal" transform="translate(534 602.29) scale(1 1.07)">2</text>
<line x1="537.2" y1="493.2" x2="540.5" y2="493.2" stroke="#333333" stroke-width="1.1"/>
<text x="0" y="0" font-size="21" fill="#4d4d4d" text-anchor="end" font-weight="normal" font-style="normal" transform="translate(534 501.24) scale(1 1.07)">3</text>
<line x1="540.3" y1="653.2" x2="923.1" y2="653.2" stroke="#000000" stroke-width="2.3" stroke-dasharray="9.26 9.26"/>
<line x1="823.2" y1="742.1" x2="823.2" y2="412.1" stroke="#000000" stroke-width="2.3" stroke-dasharray="9.26 9.26"/>
<polyline points="565.9,695.3 607.4,698.4 636.3,697" fill="none" stroke="#000000" stroke-width="1.75" stroke-linejoin="round"/>
<polyline points="686.2,664.1 727.9,662.2 756,667" fill="none" stroke="#000000" stroke-width="1.75" stroke-linejoin="round"/>
<polyline points="677.5,670 711,668.6 740.1,671.7" fill="none" stroke="#000000" stroke-width="1.75" stroke-linejoin="round"/>
<polyline points="727.9,666.4 752.8,667" fill="none" stroke="#000000" stroke-width="1.75" stroke-linejoin="round"/>
<polyline points="698.6,677.6 723.5,680.7" fill="none" stroke="#000000" stroke-width="1.75" stroke-linejoin="round"/>
<polyline points="756.8,683.2 786.1,670.1" fill="none" stroke="#000000" stroke-width="1.75" stroke-linejoin="round"/>
<polyline points="740.1,692.9 769.2,688.9" fill="none" stroke="#000000" stroke-width="1.75" stroke-linejoin="round"/>
<polyline points="702.9,701.4 731.9,699" fill="none" stroke="#000000" stroke-width="1.75" stroke-linejoin="round"/>
<polyline points="769.2,671.7 786.1,670.1 798.3,668.6 823.3,669.8" fill="none" stroke="#000000" stroke-width="1.75" stroke-linejoin="round"/>
<polyline points="831.4,666.8 847.9,668.1 860.5,670.6 885.7,670.1" fill="none" stroke="#000000" stroke-width="1.75" stroke-linejoin="round"/>
<polyline points="831.4,688.5 864.4,675.9 877,671.4" fill="none" stroke="#000000" stroke-width="1.75" stroke-linejoin="round"/>
<polyline points="860.5,670.6 877,671.4" fill="none" stroke="#000000" stroke-width="1.75" stroke-linejoin="round"/>
<polyline points="565.9,671.6 607.4,677.7 636.3,676.2" fill="none" stroke="#0033ff" stroke-width="1.75" stroke-linejoin="round"/>
<polyline points="582.5,696.5 624,706.7 652.9,696" fill="none" stroke="#0033ff" stroke-width="1.75" stroke-linejoin="round"/>
<polyline points="686.2,659.6 719.5,660.3" fill="none" stroke="#0033ff" stroke-width="1.75" stroke-linejoin="round"/>
<polyline points="681.9,670.1 711,671.7 715.6,671.7 727.9,673.9 740.1,674.1" fill="none" stroke="#0033ff" stroke-width="1.75" stroke-linejoin="round"/>
<polyline points="740.1,674.1 760.7,668 794.1,672.8" fill="none" stroke="#0033ff" stroke-width="1.75" stroke-linejoin="round"/>
<polyline points="736.1,631.5 773.5,589.4 802.3,502.2" fill="none" stroke="#0033ff" stroke-width="1.75" stroke-linejoin="round"/>
<polyline points="810.9,603.8 844.1,569.2" fill="none" stroke="#0033ff" stroke-width="1.75" stroke-linejoin="round"/>
<polyline points="815,662 848,637.9 868.8,646.2" fill="none" stroke="#0033ff" stroke-width="1.75" stroke-linejoin="round"/>
<polyline points="785.7,664.2 818.3,653.1" fill="none" stroke="#0033ff" stroke-width="1.75" stroke-linejoin="round"/>
<polyline points="798.4,665 823,651.7" fill="none" stroke="#ff2200" stroke-width="1.75" stroke-linejoin="round"/>
<polyline points="835.8,635.1 868.8,594.1 897.8,584.7" fill="none" stroke="#ff2200" stroke-width="1.75" stroke-linejoin="round"/>
<circle cx="565.9" cy="695.3" r="3.5" fill="#000000"/>
<circle cx="607.4" cy="698.4" r="3.5" fill="#000000"/>
<circle cx="636.3" cy="697" r="3.5" fill="#000000"/>
<circle cx="686.2" cy="664.1" r="3.5" fill="#000000"/>
<circle cx="727.9" cy="662.2" r="3.5" fill="#000000"/>
<circle cx="756" cy="667" r="3.5" fill="#000000"/>
<circle cx="677.5" cy="670" r="3.5" fill="#000000"/>
<circle cx="711" cy="668.6" r="3.5" fill="#000000"/>
<circle cx="740.1" cy="671.7" r="3.5" fill="#000000"/>
<circle cx="727.9" cy="666.4" r="3.5" fill="#000000"/>
<circle cx="752.8" cy="667" r="3.5" fill="#000000"/>
<circle cx="698.6" cy="677.6" r="3.5" fill="#000000"/>
<circle cx="723.5" cy="680.7" r="3.5" fill="#000000"/>
<circle cx="756.8" cy="683.2" r="3.5" fill="#000000"/>
<circle cx="786.1" cy="670.1" r="3.5" fill="#000000"/>
<circle cx="740.1" cy="692.9" r="3.5" fill="#000000"/>
<circle cx="769.2" cy="688.9" r="3.5" fill="#000000"/>
<circle cx="702.9" cy="701.4" r="3.5" fill="#000000"/>
<circle cx="731.9" cy="699" r="3.5" fill="#000000"/>
<circle cx="769.2" cy="671.7" r="3.5" fill="#000000"/>
<circle cx="786.1" cy="670.1" r="3.5" fill="#000000"/>
<circle cx="798.3" cy="668.6" r="3.5" fill="#000000"/>
<circle cx="823.3" cy="669.8" r="3.5" fill="#000000"/>
<circle cx="831.4" cy="666.8" r="3.5" fill="#000000"/>
<circle cx="847.9" cy="668.1" r="3.5" fill="#000000"/>
<circle cx="860.5" cy="670.6" r="3.5" fill="#000000"/>
<circle cx="885.7" cy="670.1" r="3.5" fill="#000000"/>
<circle cx="831.4" cy="688.5" r="3.5" fill="#000000"/>
<circle cx="864.4" cy="675.9" r="3.5" fill="#000000"/>
<circle cx="877" cy="671.4" r="3.5" fill="#000000"/>
<circle cx="860.5" cy="670.6" r="3.5" fill="#000000"/>
<circle cx="877" cy="671.4" r="3.5" fill="#000000"/>
<circle cx="565.9" cy="671.6" r="3.5" fill="#0033ff"/>
<circle cx="607.4" cy="677.7" r="3.5" fill="#0033ff"/>
<circle cx="636.3" cy="676.2" r="3.5" fill="#0033ff"/>
<circle cx="582.5" cy="696.5" r="3.5" fill="#0033ff"/>
<circle cx="624" cy="706.7" r="3.5" fill="#0033ff"/>
<circle cx="652.9" cy="696" r="3.5" fill="#0033ff"/>
<circle cx="686.2" cy="659.6" r="3.5" fill="#0033ff"/>
<circle cx="719.5" cy="660.3" r="3.5" fill="#0033ff"/>
<circle cx="681.9" cy="670.1" r="3.5" fill="#0033ff"/>
<circle cx="711" cy="671.7" r="3.5" fill="#0033ff"/>
<circle cx="715.6" cy="671.7" r="3.5" fill="#0033ff"/>
<circle cx="727.9" cy="673.9" r="3.5" fill="#0033ff"/>
<circle cx="740.1" cy="674.1" r="3.5" fill="#0033ff"/>
<circle cx="740.1" cy="674.1" r="3.5" fill="#0033ff"/>
<circle cx="760.7" cy="668" r="3.5" fill="#0033ff"/>
<circle cx="794.1" cy="672.8" r="3.5" fill="#0033ff"/>
<circle cx="736.1" cy="631.5" r="3.5" fill="#0033ff"/>
<circle cx="773.5" cy="589.4" r="3.5" fill="#0033ff"/>
<circle cx="802.3" cy="502.2" r="3.5" fill="#0033ff"/>
<circle cx="810.9" cy="603.8" r="3.5" fill="#0033ff"/>
<circle cx="844.1" cy="569.2" r="3.5" fill="#0033ff"/>
<circle cx="815" cy="662" r="3.5" fill="#0033ff"/>
<circle cx="848" cy="637.9" r="3.5" fill="#0033ff"/>
<circle cx="868.8" cy="646.2" r="3.5" fill="#0033ff"/>
<circle cx="785.7" cy="664.2" r="3.5" fill="#0033ff"/>
<circle cx="818.3" cy="653.1" r="3.5" fill="#0033ff"/>
<circle cx="798.4" cy="665" r="3.5" fill="#ff2200"/>
<circle cx="823" cy="651.7" r="3.5" fill="#ff2200"/>
<circle cx="835.8" cy="635.1" r="3.5" fill="#ff2200"/>
<circle cx="868.8" cy="594.1" r="3.5" fill="#ff2200"/>
<circle cx="897.8" cy="584.7" r="3.5" fill="#ff2200"/>
<rect x="540.5" y="412.1" width="382.6" height="329.1" fill="none" stroke="#b0b0b0" stroke-width="1.8"/>
<text transform="translate(555.7 457.5) scale(0.89 1)" x="0" y="0" font-size="47.3" fill="#000" font-weight="bold">E</text>
<text x="731.8" y="785.8" font-size="21" fill="#000" text-anchor="middle" font-weight="normal" font-style="normal">Age</text>
<text x="514.8" y="574.5" font-size="21.3" fill="#000" text-anchor="middle" font-weight="normal" font-style="normal" transform="rotate(-90 514.8 574.5)">IT tau (FTP SUVR)</text>
<line x1="1032.3" y1="410.8" x2="1032.3" y2="739.8" stroke="#ebebeb" stroke-width="0.8"/>
<line x1="1115.5" y1="410.8" x2="1115.5" y2="739.8" stroke="#ebebeb" stroke-width="0.8"/>
<line x1="1198.7" y1="410.8" x2="1198.7" y2="739.8" stroke="#ebebeb" stroke-width="0.8"/>
<line x1="1281.9" y1="410.8" x2="1281.9" y2="739.8" stroke="#ebebeb" stroke-width="0.8"/>
<line x1="1365.1" y1="410.8" x2="1365.1" y2="739.8" stroke="#ebebeb" stroke-width="0.8"/>
<line x1="1023.7" y1="642.95" x2="1406.3" y2="642.95" stroke="#ebebeb" stroke-width="0.8"/>
<line x1="1023.7" y1="542.25" x2="1406.3" y2="542.25" stroke="#ebebeb" stroke-width="0.8"/>
<line x1="1023.7" y1="441.55" x2="1406.3" y2="441.55" stroke="#ebebeb" stroke-width="0.8"/>
<line x1="1073.9" y1="410.8" x2="1073.9" y2="739.8" stroke="#ebebeb" stroke-width="1.3"/>
<line x1="1157.1" y1="410.8" x2="1157.1" y2="739.8" stroke="#ebebeb" stroke-width="1.3"/>
<line x1="1240.3" y1="410.8" x2="1240.3" y2="739.8" stroke="#ebebeb" stroke-width="1.3"/>
<line x1="1323.5" y1="410.8" x2="1323.5" y2="739.8" stroke="#ebebeb" stroke-width="1.3"/>
<line x1="1406.7" y1="410.8" x2="1406.7" y2="739.8" stroke="#ebebeb" stroke-width="1.3"/>
<line x1="1023.7" y1="693.3" x2="1406.3" y2="693.3" stroke="#ebebeb" stroke-width="1.3"/>
<line x1="1023.7" y1="592.6" x2="1406.3" y2="592.6" stroke="#ebebeb" stroke-width="1.3"/>
<line x1="1023.7" y1="491.9" x2="1406.3" y2="491.9" stroke="#ebebeb" stroke-width="1.3"/>
<line x1="1073.9" y1="739.8" x2="1073.9" y2="743.1" stroke="#333333" stroke-width="1.1"/>
<text x="0" y="0" font-size="21" fill="#4d4d4d" text-anchor="middle" font-weight="normal" font-style="normal" transform="translate(1073.9 761.7) scale(1 1.07)">30</text>
<line x1="1157.1" y1="739.8" x2="1157.1" y2="743.1" stroke="#333333" stroke-width="1.1"/>
<text x="0" y="0" font-size="21" fill="#4d4d4d" text-anchor="middle" font-weight="normal" font-style="normal" transform="translate(1157.1 761.7) scale(1 1.07)">35</text>
<line x1="1240.3" y1="739.8" x2="1240.3" y2="743.1" stroke="#333333" stroke-width="1.1"/>
<text x="0" y="0" font-size="21" fill="#4d4d4d" text-anchor="middle" font-weight="normal" font-style="normal" transform="translate(1240.3 761.7) scale(1 1.07)">40</text>
<line x1="1323.5" y1="739.8" x2="1323.5" y2="743.1" stroke="#333333" stroke-width="1.1"/>
<text x="0" y="0" font-size="21" fill="#4d4d4d" text-anchor="middle" font-weight="normal" font-style="normal" transform="translate(1323.5 761.7) scale(1 1.07)">45</text>
<line x1="1406.7" y1="739.8" x2="1406.7" y2="743.1" stroke="#333333" stroke-width="1.1"/>
<text x="0" y="0" font-size="21" fill="#4d4d4d" text-anchor="middle" font-weight="normal" font-style="normal" transform="translate(1406.7 761.7) scale(1 1.07)">50</text>
<line x1="1020.4" y1="693.3" x2="1023.7" y2="693.3" stroke="#333333" stroke-width="1.1"/>
<text x="0" y="0" font-size="21" fill="#4d4d4d" text-anchor="end" font-weight="normal" font-style="normal" transform="translate(1017 701.34) scale(1 1.07)">1</text>
<line x1="1020.4" y1="592.6" x2="1023.7" y2="592.6" stroke="#333333" stroke-width="1.1"/>
<text x="0" y="0" font-size="21" fill="#4d4d4d" text-anchor="end" font-weight="normal" font-style="normal" transform="translate(1017 600.64) scale(1 1.07)">2</text>
<line x1="1020.4" y1="491.9" x2="1023.7" y2="491.9" stroke="#333333" stroke-width="1.1"/>
<text x="0" y="0" font-size="21" fill="#4d4d4d" text-anchor="end" font-weight="normal" font-style="normal" transform="translate(1017 499.94) scale(1 1.07)">3</text>
<line x1="1023.5" y1="663.4" x2="1406.3" y2="663.4" stroke="#000000" stroke-width="2.3" stroke-dasharray="9.26 9.26"/>
<line x1="1306.3" y1="740.4" x2="1306.3" y2="410.8" stroke="#000000" stroke-width="2.3" stroke-dasharray="9.26 9.26"/>
<polyline points="1049.1,698.8 1090.4,701.1 1119.5,704" fill="none" stroke="#000000" stroke-width="1.75" stroke-linejoin="round"/>
<polyline points="1160.6,675.4 1193.9,681.8 1210.8,682.3" fill="none" stroke="#000000" stroke-width="1.75" stroke-linejoin="round"/>
<polyline points="1160.6,675.4 1210.8,676" fill="none" stroke="#000000" stroke-width="1.75" stroke-linejoin="round"/>
<polyline points="1210.8,682.3 1223,675.4 1235.7,677.6 1239.9,687.1" fill="none" stroke="#000000" stroke-width="1.75" stroke-linejoin="round"/>
<polyline points="1239.9,682.3 1269,685" fill="none" stroke="#000000" stroke-width="1.75" stroke-linejoin="round"/>
<polyline points="1252.1,669.6 1281.2,682.1" fill="none" stroke="#000000" stroke-width="1.75" stroke-linejoin="round"/>
<polyline points="1181.5,686.3 1206.6,688.1" fill="none" stroke="#000000" stroke-width="1.75" stroke-linejoin="round"/>
<polyline points="1186,701.4 1214.7,706.9" fill="none" stroke="#000000" stroke-width="1.75" stroke-linejoin="round"/>
<polyline points="1223,702.4 1252.1,702.4" fill="none" stroke="#000000" stroke-width="1.75" stroke-linejoin="round"/>
<polyline points="1281.5,714.8 1305.9,711.6" fill="none" stroke="#000000" stroke-width="1.75" stroke-linejoin="round"/>
<polyline points="1314.5,680.6 1330.8,681.8 1343.5,678.9 1359.6,678.6" fill="none" stroke="#000000" stroke-width="1.75" stroke-linejoin="round"/>
<polyline points="1314.5,703.8 1347.9,695.2 1368.7,689.6" fill="none" stroke="#000000" stroke-width="1.75" stroke-linejoin="round"/>
<polyline points="1049.1,666.2 1090.4,676.5 1119.5,678.8" fill="none" stroke="#0033ff" stroke-width="1.75" stroke-linejoin="round"/>
<polyline points="1065.6,702.1 1107.3,698.8 1136,699.7" fill="none" stroke="#0033ff" stroke-width="1.75" stroke-linejoin="round"/>
<polyline points="1164.8,679.1 1202.4,666.4" fill="none" stroke="#0033ff" stroke-width="1.75" stroke-linejoin="round"/>
<polyline points="1164.8,679.1 1194.4,675.4 1198.7,676.5 1223,679.7" fill="none" stroke="#0033ff" stroke-width="1.75" stroke-linejoin="round"/>
<polyline points="1243.6,687.6 1277.5,680.2" fill="none" stroke="#0033ff" stroke-width="1.75" stroke-linejoin="round"/>
<polyline points="1269,665.4 1302.2,660.6" fill="none" stroke="#0033ff" stroke-width="1.75" stroke-linejoin="round"/>
<polyline points="1297.9,652.5 1330.8,626.4 1351.6,598" fill="none" stroke="#0033ff" stroke-width="1.75" stroke-linejoin="round"/>
<polyline points="1210.5,626.8 1243.8,538" fill="none" stroke="#0033ff" stroke-width="1.75" stroke-linejoin="round"/>
<polyline points="1219.1,592.4 1256.2,526.9 1285.2,425.9" fill="none" stroke="#0033ff" stroke-width="1.75" stroke-linejoin="round"/>
<polyline points="1293.7,611.5 1327.3,554.1" fill="none" stroke="#0033ff" stroke-width="1.75" stroke-linejoin="round"/>
<polyline points="1281.5,615.8 1306.4,563.4" fill="none" stroke="#ff2200" stroke-width="1.75" stroke-linejoin="round"/>
<polyline points="1318.3,591.9 1351.9,525.8 1381,460.8" fill="none" stroke="#ff2200" stroke-width="1.75" stroke-linejoin="round"/>
<circle cx="1049.1" cy="698.8" r="3.5" fill="#000000"/>
<circle cx="1090.4" cy="701.1" r="3.5" fill="#000000"/>
<circle cx="1119.5" cy="704" r="3.5" fill="#000000"/>
<circle cx="1160.6" cy="675.4" r="3.5" fill="#000000"/>
<circle cx="1193.9" cy="681.8" r="3.5" fill="#000000"/>
<circle cx="1210.8" cy="682.3" r="3.5" fill="#000000"/>
<circle cx="1160.6" cy="675.4" r="3.5" fill="#000000"/>
<circle cx="1210.8" cy="676" r="3.5" fill="#000000"/>
<circle cx="1169" cy="679.7" r="3.5" fill="#000000"/>
<circle cx="1210.8" cy="682.3" r="3.5" fill="#000000"/>
<circle cx="1223" cy="675.4" r="3.5" fill="#000000"/>
<circle cx="1235.7" cy="677.6" r="3.5" fill="#000000"/>
<circle cx="1239.9" cy="687.1" r="3.5" fill="#000000"/>
<circle cx="1239.9" cy="682.3" r="3.5" fill="#000000"/>
<circle cx="1269" cy="685" r="3.5" fill="#000000"/>
<circle cx="1252.1" cy="669.6" r="3.5" fill="#000000"/>
<circle cx="1281.2" cy="682.1" r="3.5" fill="#000000"/>
<circle cx="1181.5" cy="686.3" r="3.5" fill="#000000"/>
<circle cx="1206.6" cy="688.1" r="3.5" fill="#000000"/>
<circle cx="1186" cy="701.4" r="3.5" fill="#000000"/>
<circle cx="1214.7" cy="706.9" r="3.5" fill="#000000"/>
<circle cx="1223" cy="702.4" r="3.5" fill="#000000"/>
<circle cx="1252.1" cy="702.4" r="3.5" fill="#000000"/>
<circle cx="1281.5" cy="714.8" r="3.5" fill="#000000"/>
<circle cx="1305.9" cy="711.6" r="3.5" fill="#000000"/>
<circle cx="1314.5" cy="680.6" r="3.5" fill="#000000"/>
<circle cx="1330.8" cy="681.8" r="3.5" fill="#000000"/>
<circle cx="1343.5" cy="678.9" r="3.5" fill="#000000"/>
<circle cx="1359.6" cy="678.6" r="3.5" fill="#000000"/>
<circle cx="1314.5" cy="703.8" r="3.5" fill="#000000"/>
<circle cx="1347.9" cy="695.2" r="3.5" fill="#000000"/>
<circle cx="1368.7" cy="689.6" r="3.5" fill="#000000"/>
<circle cx="1049.1" cy="666.2" r="3.5" fill="#0033ff"/>
<circle cx="1090.4" cy="676.5" r="3.5" fill="#0033ff"/>
<circle cx="1119.5" cy="678.8" r="3.5" fill="#0033ff"/>
<circle cx="1065.6" cy="702.1" r="3.5" fill="#0033ff"/>
<circle cx="1107.3" cy="698.8" r="3.5" fill="#0033ff"/>
<circle cx="1136" cy="699.7" r="3.5" fill="#0033ff"/>
<circle cx="1164.8" cy="679.1" r="3.5" fill="#0033ff"/>
<circle cx="1202.4" cy="666.4" r="3.5" fill="#0033ff"/>
<circle cx="1164.8" cy="679.1" r="3.5" fill="#0033ff"/>
<circle cx="1194.4" cy="675.4" r="3.5" fill="#0033ff"/>
<circle cx="1198.7" cy="676.5" r="3.5" fill="#0033ff"/>
<circle cx="1223" cy="679.7" r="3.5" fill="#0033ff"/>
<circle cx="1243.6" cy="687.6" r="3.5" fill="#0033ff"/>
<circle cx="1277.5" cy="680.2" r="3.5" fill="#0033ff"/>
<circle cx="1269" cy="665.4" r="3.5" fill="#0033ff"/>
<circle cx="1302.2" cy="660.6" r="3.5" fill="#0033ff"/>
<circle cx="1297.9" cy="652.5" r="3.5" fill="#0033ff"/>
<circle cx="1330.8" cy="626.4" r="3.5" fill="#0033ff"/>
<circle cx="1351.6" cy="598" r="3.5" fill="#0033ff"/>
<circle cx="1210.5" cy="626.8" r="3.5" fill="#0033ff"/>
<circle cx="1243.8" cy="538" r="3.5" fill="#0033ff"/>
<circle cx="1219.1" cy="592.4" r="3.5" fill="#0033ff"/>
<circle cx="1256.2" cy="526.9" r="3.5" fill="#0033ff"/>
<circle cx="1285.2" cy="425.9" r="3.5" fill="#0033ff"/>
<circle cx="1293.7" cy="611.5" r="3.5" fill="#0033ff"/>
<circle cx="1327.3" cy="554.1" r="3.5" fill="#0033ff"/>
<circle cx="1281.5" cy="615.8" r="3.5" fill="#ff2200"/>
<circle cx="1306.4" cy="563.4" r="3.5" fill="#ff2200"/>
<circle cx="1318.3" cy="591.9" r="3.5" fill="#ff2200"/>
<circle cx="1351.9" cy="525.8" r="3.5" fill="#ff2200"/>
<circle cx="1381" cy="460.8" r="3.5" fill="#ff2200"/>
<rect x="1023.7" y="410.8" width="382.6" height="329" fill="none" stroke="#b0b0b0" stroke-width="1.8"/>
<text transform="translate(1032.9 456.5) scale(0.89 1)" x="0" y="0" font-size="47.3" fill="#000" font-weight="bold">F</text>
<text x="1215" y="784" font-size="21" fill="#000" text-anchor="middle" font-weight="normal" font-style="normal">Age</text>
<text x="995" y="576" font-size="21.3" fill="#000" text-anchor="middle" font-weight="normal" font-style="normal" transform="rotate(-90 995 576)">PC tau (FTP SUVR)</text>
</svg>
</body></html>
